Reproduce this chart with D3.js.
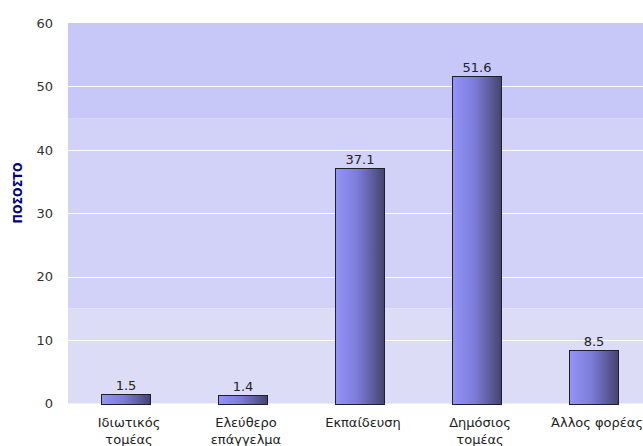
<!DOCTYPE html>
<html>
<head>
<meta charset="utf-8">
<script src="https://cdn.jsdelivr.net/npm/d3@7"></script>
<style>
  body { margin: 0; background: #fff; }
  text { font-family: "DejaVu Sans", Verdana, sans-serif; }
</style>
</head>
<body>
<div id="chart"></div>
<script>
const categories = [
  ["Ιδιωτικός", "τομέας"],
  ["Ελεύθερο", "επάγγελμα"],
  ["Εκπαίδευση"],
  ["Δημόσιος", "τομέας"],
  ["Άλλος φορέας"]
]
const values = [1.5, 1.4, 37.1, 51.6, 8.5]
const yTicks = [0, 10, 20, 30, 40, 50, 60]
const bands = [[0, 15, "#dcdcf6"], [15, 45, "#d2d2f8"], [45, 60, "#c8c8f8"]]

const width = 643, height = 446

let svg = d3.select("#chart")
  .append("svg")
  .attr("width", width)
  .attr("height", height)

let y = d3.scaleLinear()
  .domain([0, 60])
  .range([403.5, 23])

let x = d3.scaleBand()
  .domain(d3.range(categories.length))
  .range([67.5, 67.5 + 117 * categories.length])
  .paddingInner(0.58)
  .paddingOuter(0.29)

let plotLeft = 68, plotRight = width

// gradient for the bars
let grad = svg.append("defs").append("linearGradient")
  .attr("id", "barGrad")
  .attr("x1", "0%").attr("x2", "100%")
grad.append("stop").attr("offset", "0%").attr("stop-color", "#9494fa")
grad.append("stop").attr("offset", "45%").attr("stop-color", "#7c7cd8")
grad.append("stop").attr("offset", "100%").attr("stop-color", "#44446e")

// background bands
svg.append("g").selectAll("rect").data(bands).enter().append("rect")
  .attr("x", plotLeft)
  .attr("width", plotRight - plotLeft)
  .attr("y", d => y(d[1]))
  .attr("height", d => y(d[0]) - y(d[1]))
  .attr("fill", d => d[2])

// white grid lines
svg.append("g").selectAll("line").data(yTicks.filter(t => t > 0 && t < 60)).enter().append("line")
  .attr("x1", plotLeft).attr("x2", plotRight)
  .attr("y1", d => Math.round(y(d)) + 0.5)
  .attr("y2", d => Math.round(y(d)) + 0.5)
  .attr("stroke", "#fff")
  .attr("stroke-width", 1.2)

// y axis
svg.append("g")
  .attr("transform", "translate(60,0)")
  .call(d3.axisLeft(y).tickValues(yTicks).tickSize(0).tickPadding(7))
  .call(g => g.select(".domain").remove())
  .call(g => g.selectAll(".tick text")
    .attr("font-family", "DejaVu Sans, Verdana, sans-serif")
    .attr("font-size", "13px")
    .attr("fill", "#333"))

svg.append("text")
  .attr("transform", "translate(22,193) rotate(-90)")
  .attr("text-anchor", "middle")
  .attr("font-family", "DejaVu Sans Condensed, DejaVu Sans, sans-serif")
  .attr("font-size", "13px")
  .attr("font-weight", "bold")
  .attr("fill", "#000080")
  .attr("textLength", 61)
  .attr("lengthAdjust", "spacingAndGlyphs")
  .text("ΠΟΣΟΣΤΟ")

// bars
let bars = svg.append("g").selectAll("g").data(values).enter().append("g")

bars.append("rect")
  .attr("x", (d, i) => Math.round(x(i)) + 0.5)
  .attr("y", d => Math.round(y(d)) + 0.5)
  .attr("width", Math.round(x.bandwidth()))
  .attr("height", d => Math.round(y(0)) - Math.round(y(d)))
  .attr("fill", "url(#barGrad)")
  .attr("stroke", "#1e1e2e")
  .attr("stroke-width", 1)

bars.append("text")
  .attr("x", (d, i) => x(i) + x.bandwidth() / 2)
  .attr("y", d => y(d) - 4)
  .attr("text-anchor", "middle")
  .attr("font-size", "13px")
  .attr("fill", "#222")
  .text(d => d)

// category labels
let xl = svg.append("g").selectAll("text").data(categories).enter().append("text")
  .attr("text-anchor", "middle")
  .attr("font-size", "13px")
  .attr("fill", "#222")
xl.selectAll("tspan").data((d, i) => d.map(s => [s, i])).enter().append("tspan")
  .attr("x", d => x(d[1]) + x.bandwidth() / 2 + 3)
  .attr("y", (d, j) => 427 + j * 17)
  .text(d => d[0])
</script>
</body>
</html>
